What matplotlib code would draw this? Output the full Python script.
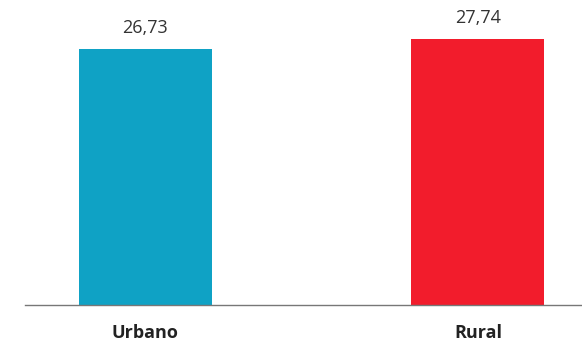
import matplotlib.pyplot as plt

# datos
categorias = ["Urbano", "Rural"]
valores = [26.73, 27.74]
colores = ["#0fa2c5", "#f21c2c"]

fig = plt.figure(figsize=(5.82, 3.49), dpi=100)
ax = fig.add_axes([25 / 582, 44 / 349, 557 / 582, 305 / 349])

x = list(range(len(categorias)))
barras = ax.bar(x, valores, width=0.4, color=colores)

for bar, val in zip(barras, valores):
    ax.text(bar.get_x() + bar.get_width() / 2, val + 1.2,
            f"{val:.2f}".replace(".", ","), ha="center", va="bottom",
            fontsize=13, color="#333333", family="Open Sans")

ax.set_xlim(-0.362, 1.313)
ax.set_ylim(0, 31.8)
ax.set_xticks(x)
ax.set_xticklabels(categorias, fontsize=13, fontweight="bold",
                   color="#222222", family="Open Sans")
ax.tick_params(axis="x", length=0, pad=14)
ax.set_yticks([])
for s in ["top", "right", "left"]:
    ax.spines[s].set_visible(False)
ax.spines["bottom"].set_color("#777777")
ax.spines["bottom"].set_linewidth(1.0)

fig.savefig("out.png", dpi=100)
